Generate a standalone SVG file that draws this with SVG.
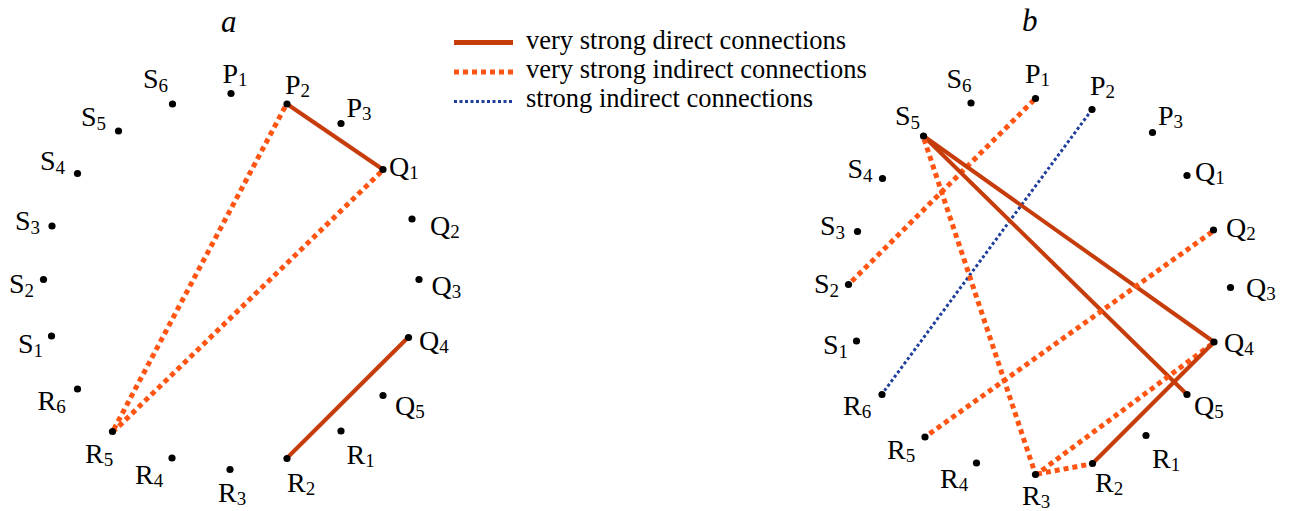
<svg xmlns="http://www.w3.org/2000/svg" width="1290" height="511" viewBox="0 0 1290 511">
<style>
text{font-family:"Liberation Serif","Times New Roman",serif;fill:#000}
.lb{font-size:28px}
.sub{font-size:19px}
.it{font-size:31px;font-style:italic}
.lg{font-size:26.5px}
.dot{fill:#000}
.solid{stroke:#c63d0b;stroke-width:4;fill:none}
.ind{stroke:#ff5412;stroke-width:5;stroke-dasharray:5 4;fill:none}
.blue{stroke:#1f3f9c;stroke-width:3;stroke-dasharray:3 2.5;fill:none}
</style>
<rect width="1290" height="511" fill="#fff"/>
<text class="it" x="221" y="32">a</text>
<text class="it" x="1022" y="31">b</text>
<g id="legend">
<line class="solid" x1="454" y1="42.5" x2="513" y2="42.5" style="stroke-width:5"/>
<line class="ind" x1="454" y1="72" x2="513" y2="72"/>
<line class="blue" x1="454" y1="101.5" x2="513" y2="101.5"/>
<text class="lg" x="526" y="48.5">very strong direct connections</text>
<text class="lg" x="526" y="78">very strong indirect connections</text>
<text class="lg" x="526" y="107">strong indirect connections</text>
</g>
<g id="connectors">
<line class="solid" x1="287" y1="104" x2="383" y2="169.5"/>
<line class="ind" x1="285" y1="107" x2="114" y2="429"/>
<line class="ind" x1="381" y1="172" x2="115" y2="430"/>
<line class="solid" x1="408" y1="337.5" x2="287" y2="458"/>
<line class="ind" x1="1034" y1="100" x2="849" y2="284"/>
<line class="blue" x1="1092" y1="109.5" x2="882" y2="394"/>
<line class="solid" x1="923.5" y1="136" x2="1214" y2="342"/>
<line class="solid" x1="923.5" y1="136" x2="1187" y2="394.5"/>
<line class="ind" x1="924" y1="139" x2="1035" y2="473"/>
<line class="ind" x1="1212" y1="232" x2="925" y2="437"/>
<line class="ind" x1="1212" y1="344" x2="1037" y2="474"/>
<line class="ind" x1="1037" y1="474" x2="1091" y2="464"/>
<line class="solid" x1="1214" y1="342" x2="1093" y2="463"/>
</g>
<g id="left">
<g id="a-S6"><circle class="dot" cx="172.5" cy="104" r="3.6"/><text class="lb" x="143" y="88">S<tspan class="sub" dy="4">6</tspan></text></g>
<g id="a-P1"><circle class="dot" cx="231" cy="93.5" r="3.6"/><text class="lb" x="222.5" y="83">P<tspan class="sub" dy="3">1</tspan></text></g>
<g id="a-P2"><circle class="dot" cx="287" cy="104" r="3.6"/><text class="lb" x="285" y="94">P<tspan class="sub" dy="3">2</tspan></text></g>
<g id="a-P3"><circle class="dot" cx="341" cy="123.5" r="3.6"/><text class="lb" x="346.5" y="116.5">P<tspan class="sub" dy="3">3</tspan></text></g>
<g id="a-Q1"><circle class="dot" cx="383" cy="169.5" r="3.6"/><text class="lb" x="389" y="176">Q<tspan class="sub" dy="3">1</tspan></text></g>
<g id="a-Q2"><circle class="dot" cx="412" cy="219" r="3.6"/><text class="lb" x="430" y="235">Q<tspan class="sub" dy="3">2</tspan></text></g>
<g id="a-Q3"><circle class="dot" cx="419" cy="279.5" r="3.6"/><text class="lb" x="431.5" y="295">Q<tspan class="sub" dy="3">3</tspan></text></g>
<g id="a-Q4"><circle class="dot" cx="408.5" cy="337.5" r="3.6"/><text class="lb" x="419" y="350">Q<tspan class="sub" dy="3">4</tspan></text></g>
<g id="a-Q5"><circle class="dot" cx="383" cy="395.5" r="3.6"/><text class="lb" x="395" y="415">Q<tspan class="sub" dy="3">5</tspan></text></g>
<g id="a-R1"><circle class="dot" cx="341" cy="431" r="3.6"/><text class="lb" x="346.5" y="464">R<tspan class="sub" dy="3">1</tspan></text></g>
<g id="a-R2"><circle class="dot" cx="287" cy="458.5" r="3.6"/><text class="lb" x="287" y="491.5">R<tspan class="sub" dy="3">2</tspan></text></g>
<g id="a-R3"><circle class="dot" cx="230" cy="469.5" r="3.6"/><text class="lb" x="218" y="502">R<tspan class="sub" dy="3">3</tspan></text></g>
<g id="a-R4"><circle class="dot" cx="172" cy="458" r="3.6"/><text class="lb" x="135" y="484">R<tspan class="sub" dy="3">4</tspan></text></g>
<g id="a-R5"><circle class="dot" cx="112.5" cy="431.5" r="3.6"/><text class="lb" x="85" y="463">R<tspan class="sub" dy="3">5</tspan></text></g>
<g id="a-R6"><circle class="dot" cx="77.5" cy="389" r="3.6"/><text class="lb" x="37.5" y="410">R<tspan class="sub" dy="3">6</tspan></text></g>
<g id="a-S1"><circle class="dot" cx="51.5" cy="336" r="3.6"/><text class="lb" x="18" y="353">S<tspan class="sub" dy="4">1</tspan></text></g>
<g id="a-S2"><circle class="dot" cx="43.5" cy="279.5" r="3.6"/><text class="lb" x="9" y="293">S<tspan class="sub" dy="4">2</tspan></text></g>
<g id="a-S3"><circle class="dot" cx="52" cy="226" r="3.6"/><text class="lb" x="15" y="230">S<tspan class="sub" dy="4">3</tspan></text></g>
<g id="a-S4"><circle class="dot" cx="77.5" cy="173.5" r="3.6"/><text class="lb" x="40" y="170">S<tspan class="sub" dy="4">4</tspan></text></g>
<g id="a-S5"><circle class="dot" cx="118.5" cy="131" r="3.6"/><text class="lb" x="81" y="126">S<tspan class="sub" dy="4">5</tspan></text></g>
</g>
<g id="right">
<g id="b-S6"><circle class="dot" cx="971" cy="103" r="3.6"/><text class="lb" x="946.5" y="88">S<tspan class="sub" dy="4">6</tspan></text></g>
<g id="b-P1"><circle class="dot" cx="1035.5" cy="98.5" r="3.6"/><text class="lb" x="1025" y="83">P<tspan class="sub" dy="3">1</tspan></text></g>
<g id="b-P2"><circle class="dot" cx="1092" cy="109.5" r="3.6"/><text class="lb" x="1090" y="95">P<tspan class="sub" dy="3">2</tspan></text></g>
<g id="b-P3"><circle class="dot" cx="1152.5" cy="132.5" r="3.6"/><text class="lb" x="1158" y="125">P<tspan class="sub" dy="3">3</tspan></text></g>
<g id="b-Q1"><circle class="dot" cx="1187" cy="175.5" r="3.6"/><text class="lb" x="1195" y="181">Q<tspan class="sub" dy="3">1</tspan></text></g>
<g id="b-Q2"><circle class="dot" cx="1213.5" cy="230" r="3.6"/><text class="lb" x="1226" y="236.5">Q<tspan class="sub" dy="3">2</tspan></text></g>
<g id="b-Q3"><circle class="dot" cx="1230.5" cy="287.5" r="3.6"/><text class="lb" x="1246" y="297">Q<tspan class="sub" dy="3">3</tspan></text></g>
<g id="b-Q4"><circle class="dot" cx="1214" cy="342" r="3.6"/><text class="lb" x="1224" y="351.5">Q<tspan class="sub" dy="3">4</tspan></text></g>
<g id="b-Q5"><circle class="dot" cx="1187" cy="394.5" r="3.6"/><text class="lb" x="1194" y="415">Q<tspan class="sub" dy="3">5</tspan></text></g>
<g id="b-R1"><circle class="dot" cx="1146" cy="435.5" r="3.6"/><text class="lb" x="1152" y="468">R<tspan class="sub" dy="3">1</tspan></text></g>
<g id="b-R2"><circle class="dot" cx="1092.5" cy="463.5" r="3.6"/><text class="lb" x="1095" y="491.5">R<tspan class="sub" dy="3">2</tspan></text></g>
<g id="b-R3"><circle class="dot" cx="1035.5" cy="474.5" r="3.6"/><text class="lb" x="1022" y="505">R<tspan class="sub" dy="3">3</tspan></text></g>
<g id="b-R4"><circle class="dot" cx="976.5" cy="463" r="3.6"/><text class="lb" x="940" y="488">R<tspan class="sub" dy="3">4</tspan></text></g>
<g id="b-R5"><circle class="dot" cx="925" cy="437" r="3.6"/><text class="lb" x="887" y="459">R<tspan class="sub" dy="3">5</tspan></text></g>
<g id="b-R6"><circle class="dot" cx="882" cy="394.5" r="3.6"/><text class="lb" x="843" y="415">R<tspan class="sub" dy="3">6</tspan></text></g>
<g id="b-S1"><circle class="dot" cx="856.5" cy="341" r="3.6"/><text class="lb" x="823" y="354">S<tspan class="sub" dy="4">1</tspan></text></g>
<g id="b-S2"><circle class="dot" cx="848.5" cy="284.5" r="3.6"/><text class="lb" x="814" y="292.5">S<tspan class="sub" dy="4">2</tspan></text></g>
<g id="b-S3"><circle class="dot" cx="857.5" cy="231.5" r="3.6"/><text class="lb" x="820" y="235">S<tspan class="sub" dy="4">3</tspan></text></g>
<g id="b-S4"><circle class="dot" cx="882.5" cy="178.5" r="3.6"/><text class="lb" x="847.5" y="178">S<tspan class="sub" dy="4">4</tspan></text></g>
<g id="b-S5"><circle class="dot" cx="923.5" cy="136" r="3.6"/><text class="lb" x="895" y="125">S<tspan class="sub" dy="4">5</tspan></text></g>
</g>
</svg>
